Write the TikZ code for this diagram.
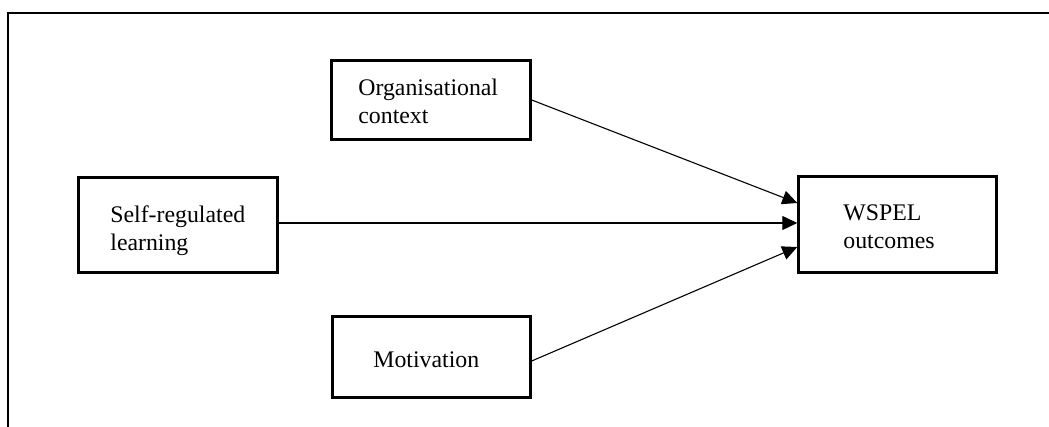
\documentclass[tikz,border=0pt]{standalone}
\usepackage{fontspec}
\setmainfont{Liberation Serif}
\usetikzlibrary{arrows.meta}
\begin{document}
\begin{tikzpicture}[x=0.5bp,y=-0.5bp,
  box/.style={draw, line width=1.4bp, inner sep=0pt, rectangle},
  lbl/.style={inner sep=0pt, anchor=base west, align=left,
    font=\fontsize{11.9bp}{14bp}\selectfont},
  link/.style={line width=0.55bp, -{Triangle[length=7.5bp,width=7bp]}},
  frame/.style={line width=1bp}]
\useasboundingbox (0,0) rectangle (1049,427);
% open frame: top and left edges only
\coordinate (ftl) at (8,13.5);
\coordinate (ftr) at (1049,13.5);
\coordinate (fbl) at (8,427);
\draw[frame] (ftr) -- (ftl) -- (fbl);
% boxes
\node[box, minimum width=99.3bp, minimum height=39.3bp] (org) at (431,100) {};
\node[box, minimum width=99.3bp, minimum height=47.3bp] (self) at (178,225) {};
\node[box, minimum width=98.8bp, minimum height=47.8bp] (wspel) at (897.5,224.5) {};
\node[box, minimum width=98.8bp, minimum height=40.3bp] (mot) at (431.5,357) {};
% labels (base anchor sits on the last line)
\node[lbl] (orgt) at (358,124) {Organisational\\context};
\node[lbl] (selft) at (110,251) {Self-regulated\\learning};
\node[lbl] (wspelt) at (843,249) {WSPEL\\outcomes};
\node[lbl] (mott) at (373,368) {Motivation};
% connectors
\coordinate (motout) at ([yshift=-2bp]mot.east);
\coordinate (inA) at ([yshift=10.75bp]wspel.west);
\coordinate (inB) at ([yshift=0.75bp]wspel.west);
\coordinate (inC) at ([yshift=-11.25bp]wspel.west);
\draw[link] (org.east) -- (inA);
\draw[link] (self.east |- inB) -- (inB);
\draw[link] (motout) -- (inC);
\end{tikzpicture}
\end{document}
